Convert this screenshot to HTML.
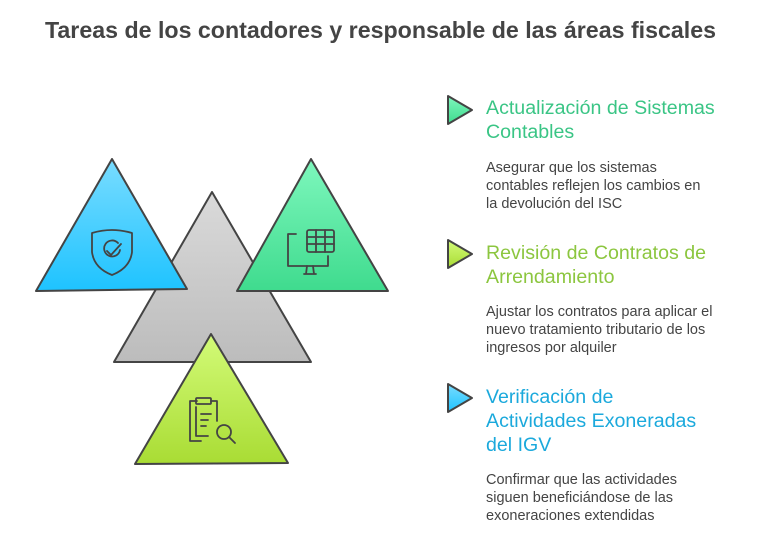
<!DOCTYPE html>
<html><head><meta charset="utf-8"><style>
body{margin:0;width:761px;height:551px;background:#fff;font-family:"Liberation Sans",sans-serif;position:relative;overflow:hidden}
h1{position:absolute;left:0;width:761px;top:17px;margin:0;text-align:center;font-size:23.2px;font-weight:bold;color:#444}
.t{position:absolute;left:486px;font-size:19.6px;line-height:24px}
.d{position:absolute;left:486px;font-size:14.5px;line-height:18px;color:#444}
</style></head><body>
<h1>Tareas de los contadores y responsable de las áreas fiscales</h1>
<svg width="761" height="551" style="position:absolute;left:0;top:0">
<defs>
<linearGradient id="gb" x1="0" y1="0" x2="0" y2="1"><stop offset="0" stop-color="#79dcff"/><stop offset="1" stop-color="#1ec3ff"/></linearGradient>
<linearGradient id="gg" x1="0" y1="0" x2="0" y2="1"><stop offset="0" stop-color="#7ef7bd"/><stop offset="1" stop-color="#3fdb8e"/></linearGradient>
<linearGradient id="gr" x1="0" y1="0" x2="0" y2="1"><stop offset="0" stop-color="#dadada"/><stop offset="1" stop-color="#bcbcbc"/></linearGradient>
<linearGradient id="gl" x1="0" y1="0" x2="0" y2="1"><stop offset="0" stop-color="#d3fb78"/><stop offset="1" stop-color="#a9dc34"/></linearGradient>
</defs>
<g stroke="#444" stroke-width="2" stroke-linejoin="round">
<polygon points="212,192 114,362 311,362" fill="url(#gr)"/>
<polygon points="112,159 36,291 187,289" fill="url(#gb)"/>
<polygon points="311,159 237,291 388,291" fill="url(#gg)"/>
<polygon points="211,334 135,464 288,463" fill="url(#gl)"/>
<polygon points="448,96 472,110 448,124" fill="url(#gg)"/>
<polygon points="448,240 472,254 448,268" fill="url(#gl)"/>
<polygon points="448,384 472,398 448,412" fill="url(#gb)"/>
</g>
<g fill="none" stroke="#444" stroke-width="1.8" stroke-linecap="round" stroke-linejoin="round">
<path d="M92,233 Q112,227 132,233 L132,252 Q130,268 112,275 Q94,268 92,252 Z"/>
<path d="M118,243 A8,8 0 1 0 120,250"/><path d="M107,251 L111,255 L121,244"/>
<path d="M296,234 L288,234 L288,266 L328,266 L328,256"/><path d="M304,274 L316,274 M307,266 L306,274 M313,266 L314,274"/>
<rect x="307" y="230" width="27" height="22" rx="2"/><path d="M307,237 H334 M307,244 H334 M316,230 V252 M325,230 V252"/>
<path d="M197,401 H190 V441 H201"/><rect x="196" y="398" width="15" height="6" rx="1"/>
<path d="M211,401 H217 V421 M196,407 V436 H208"/><path d="M201,414 H211 M201,420 H208 M201,426 H206"/>
<circle cx="224" cy="432" r="7"/><path d="M229,437 L235,443"/>
</g>
</svg>
<div class="t" style="top:96px;color:#3ac585">Actualización de Sistemas<br>Contables</div>
<div class="d" style="top:159px">Asegurar que los sistemas<br>contables reflejen los cambios en<br>la devolución del ISC</div>
<div class="t" style="top:241px;color:#8cc63f">Revisión de Contratos de<br>Arrendamiento</div>
<div class="d" style="top:303px">Ajustar los contratos para aplicar el<br>nuevo tratamiento tributario de los<br>ingresos por alquiler</div>
<div class="t" style="top:385px;color:#1ba9dc">Verificación de<br>Actividades Exoneradas<br>del IGV</div>
<div class="d" style="top:471px">Confirmar que las actividades<br>siguen beneficiándose de las<br>exoneraciones extendidas</div>
</body></html>
